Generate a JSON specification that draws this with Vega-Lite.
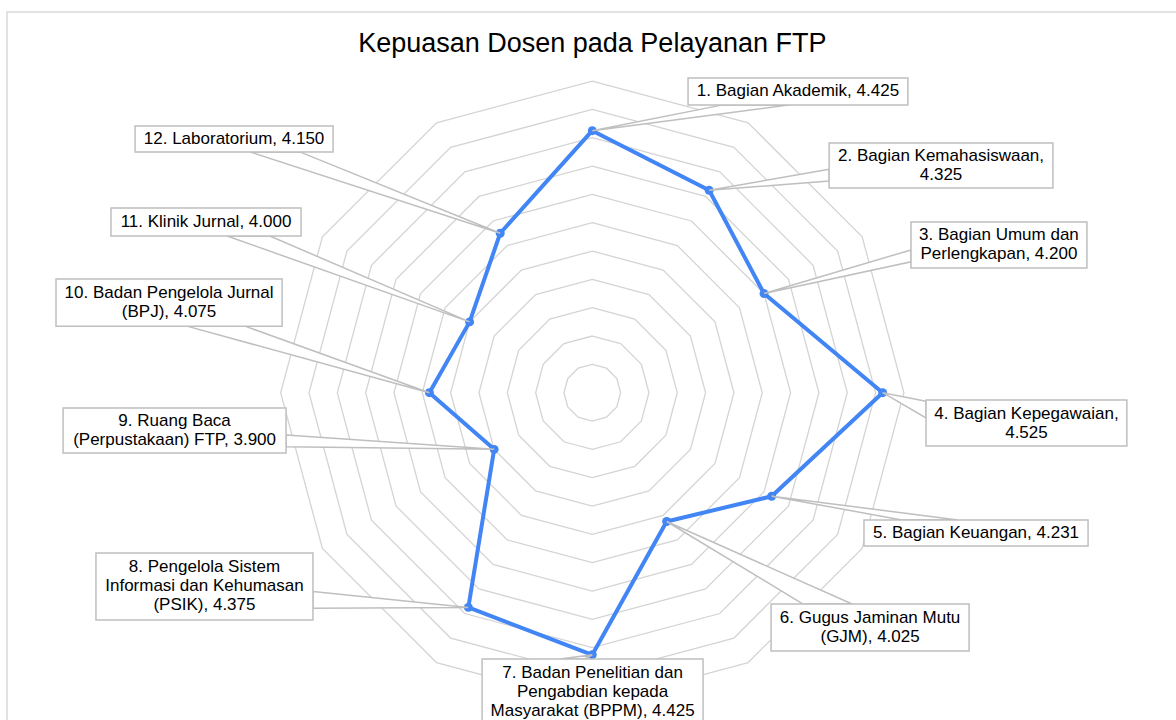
{
  "$schema": "https://vega.github.io/schema/vega-lite/v6.json",
  "width": 1176,
  "height": 720,
  "padding": 0,
  "autosize": {"type": "none"},
  "background": "white",
  "config": {"view": {"stroke": null}},
  "datasets": {
    "scores": [
      {"no": 1, "name": "Bagian Akademik", "value": 4.425},
      {"no": 2, "name": "Bagian Kemahasiswaan", "value": 4.325},
      {"no": 3, "name": "Bagian Umum dan Perlengkapan", "value": 4.2},
      {"no": 4, "name": "Bagian Kepegawaian", "value": 4.525},
      {"no": 5, "name": "Bagian Keuangan", "value": 4.231},
      {"no": 6, "name": "Gugus Jaminan Mutu (GJM)", "value": 4.025},
      {"no": 7, "name": "Badan Penelitian dan Pengabdian kepada Masyarakat (BPPM)", "value": 4.425},
      {"no": 8, "name": "Pengelola Sistem Informasi dan Kehumasan (PSIK)", "value": 4.375},
      {"no": 9, "name": "Ruang Baca (Perpustakaan) FTP", "value": 3.9},
      {"no": 10, "name": "Badan Pengelola Jurnal (BPJ)", "value": 4.075},
      {"no": 11, "name": "Klinik Jurnal", "value": 4.0},
      {"no": 12, "name": "Laboratorium", "value": 4.15}
    ],
    "rings": [
      {"level": 3.6, "k": [0,1,2,3,4,5,6,7,8,9,10,11]},
      {"level": 3.7, "k": [0,1,2,3,4,5,6,7,8,9,10,11]},
      {"level": 3.8, "k": [0,1,2,3,4,5,6,7,8,9,10,11]},
      {"level": 3.9, "k": [0,1,2,3,4,5,6,7,8,9,10,11]},
      {"level": 4.0, "k": [0,1,2,3,4,5,6,7,8,9,10,11]},
      {"level": 4.1, "k": [0,1,2,3,4,5,6,7,8,9,10,11]},
      {"level": 4.2, "k": [0,1,2,3,4,5,6,7,8,9,10,11]},
      {"level": 4.3, "k": [0,1,2,3,4,5,6,7,8,9,10,11]},
      {"level": 4.4, "k": [0,1,2,3,4,5,6,7,8,9,10,11]},
      {"level": 4.5, "k": [0,1,2,3,4,5,6,7,8,9,10,11]},
      {"level": 4.6, "k": [0,1,2,3,4,5,6,7,8,9,10,11]}
    ],
    "callouts": [
      {"no": 1, "text": "1. Bagian Akademik, 4.425", "x1": 0.338, "x2": 1.114, "y1": 1.111, "y2": 1.016, "bx1": 0.461, "by1": 1.016, "bx2": 0.698, "by2": 1.016},
      {"no": 2, "text": "2. Bagian Kemahasiswaan,\n4.325", "x1": 0.836, "x2": 1.626, "y1": 0.881, "y2": 0.723, "bx1": 0.836, "by1": 0.789, "bx2": 0.836, "by2": 0.747},
      {"no": 3, "text": "3. Bagian Umum dan\nPerlengkapan, 4.200", "x1": 1.125, "x2": 1.746, "y1": 0.603, "y2": 0.44, "bx1": 1.125, "by1": 0.504, "bx2": 1.125, "by2": 0.462},
      {"no": 4, "text": "4. Bagian Kepegawaian,\n4.525", "x1": 1.178, "x2": 1.887, "y1": -0.026, "y2": -0.188, "bx1": 1.178, "by1": -0.03, "bx2": 1.178, "by2": -0.089},
      {"no": 5, "text": "5. Bagian Keuangan, 4.231", "x1": 0.959, "x2": 1.75, "y1": -0.449, "y2": -0.541, "bx1": 1.093, "by1": -0.449, "bx2": 1.291, "by2": -0.449},
      {"no": 6, "text": "6. Gugus Jaminan Mutu\n(GJM), 4.025", "x1": 0.631, "x2": 1.33, "y1": -0.746, "y2": -0.912, "bx1": 0.744, "by1": -0.746, "bx2": 0.917, "by2": -0.746},
      {"no": 7, "text": "7. Badan Penelitian dan\nPengabdian kepada\nMasyarakat  (BPPM), 4.425", "x1": -0.389, "x2": 0.391, "y1": -0.94, "y2": -1.173, "bx1": -0.114, "by1": -0.94, "bx2": -0.026, "by2": -0.94},
      {"no": 8, "text": "8. Pengelola Sistem\nInformasi dan Kehumasan\n(PSIK), 4.375", "x1": -1.752, "x2": -0.986, "y1": -0.566, "y2": -0.802, "bx1": -0.986, "by1": -0.702, "bx2": -0.986, "by2": -0.761},
      {"no": 9, "text": "9. Ruang Baca\n(Perpustakaan) FTP, 3.900", "x1": -1.868, "x2": -1.081, "y1": -0.054, "y2": -0.213, "bx1": -1.081, "by1": -0.149, "bx2": -1.081, "by2": -0.191},
      {"no": 10, "text": "10. Badan Pengelola Jurnal\n(BPJ), 4.075", "x1": -1.893, "x2": -1.095, "y1": 0.401, "y2": 0.235, "bx1": -1.431, "by1": 0.235, "bx2": -1.226, "by2": 0.235},
      {"no": 11, "text": "11. Klinik Jurnal, 4.000", "x1": -1.699, "x2": -1.028, "y1": 0.652, "y2": 0.553, "bx1": -1.289, "by1": 0.553, "bx2": -1.138, "by2": 0.553},
      {"no": 12, "text": "12. Laboratorium, 4.150", "x1": -1.614, "x2": -0.915, "y1": 0.941, "y2": 0.85, "bx1": -1.208, "by1": 0.85, "bx2": -1.032, "by2": 0.85}
    ]
  },
  "encoding": {
    "x": {"type": "quantitative", "scale": {"domain": [-2.0907, 2.0604], "nice": false, "zero": false}, "axis": null},
    "y": {"type": "quantitative", "scale": {"domain": [-1.1553, 1.3862], "nice": false, "zero": false}, "axis": null}
  },
  "layer": [
    {
      "data": {"values": [{}]},
      "mark": {"type": "rect", "fill": null, "stroke": "#d9d9d9", "strokeWidth": 1.5},
      "encoding": {
        "x": {"datum": -2.066},
        "x2": {"datum": 3},
        "y": {"datum": 1.3438},
        "y2": {"datum": -3}
      }
    },
    {
      "data": {"name": "rings"},
      "transform": [
        {"flatten": ["k"]},
        {"calculate": "(datum.level - 3.5) * sin(datum.k * PI / 6)", "as": "gx"},
        {"calculate": "(datum.level - 3.5) * cos(datum.k * PI / 6)", "as": "gy"}
      ],
      "mark": {"type": "line", "interpolate": "linear-closed", "stroke": "#d4d4d4", "strokeWidth": 1.3},
      "encoding": {
        "x": {"field": "gx", "type": "quantitative"},
        "y": {"field": "gy", "type": "quantitative"},
        "detail": {"field": "level", "type": "nominal"},
        "order": {"field": "k", "type": "quantitative"}
      }
    },
    {
      "data": {"name": "scores"},
      "transform": [
        {"calculate": "(datum.value - 3.5) * sin((datum.no - 1) * PI / 6)", "as": "px"},
        {"calculate": "(datum.value - 3.5) * cos((datum.no - 1) * PI / 6)", "as": "py"}
      ],
      "layer": [
        {
          "mark": {"type": "line", "interpolate": "linear-closed", "stroke": "#4285F4", "strokeWidth": 4, "strokeJoin": "round"},
          "encoding": {
            "x": {"field": "px", "type": "quantitative"},
            "y": {"field": "py", "type": "quantitative"},
            "order": {"field": "no", "type": "quantitative"}
          }
        },
        {
          "mark": {"type": "circle", "size": 80, "color": "#4285F4", "opacity": 1},
          "encoding": {
            "x": {"field": "px", "type": "quantitative"},
            "y": {"field": "py", "type": "quantitative"}
          }
        }
      ]
    },
    {
      "data": {"name": "callouts"},
      "transform": [
        {"lookup": "no", "from": {"data": {"name": "scores"}, "key": "no", "fields": ["value"]}},
        {"calculate": "(datum.value - 3.5) * sin((datum.no - 1) * PI / 6)", "as": "px"},
        {"calculate": "(datum.value - 3.5) * cos((datum.no - 1) * PI / 6)", "as": "py"},
        {"fold": ["bx1", "px", "bx2"], "as": ["vk", "wx"]},
        {"calculate": "datum.vk == 'bx1' ? datum.by1 : (datum.vk == 'px' ? datum.py : datum.by2)", "as": "wy"},
        {"calculate": "datum.vk == 'bx1' ? 0 : (datum.vk == 'px' ? 1 : 2)", "as": "vi"}
      ],
      "mark": {"type": "line", "interpolate": "linear-closed", "fill": "white", "stroke": "#bfbfbf", "strokeWidth": 1.5},
      "encoding": {
        "x": {"field": "wx", "type": "quantitative"},
        "y": {"field": "wy", "type": "quantitative"},
        "detail": {"field": "no", "type": "nominal"},
        "order": {"field": "vi", "type": "quantitative"}
      }
    },
    {
      "data": {"name": "callouts"},
      "mark": {"type": "rect", "fill": "white", "stroke": "#bfbfbf", "strokeWidth": 1.5},
      "encoding": {
        "x": {"field": "x1", "type": "quantitative"},
        "x2": {"field": "x2"},
        "y": {"field": "y1", "type": "quantitative"},
        "y2": {"field": "y2"}
      }
    },
    {
      "data": {"name": "callouts"},
      "transform": [
        {"calculate": "length(split(datum.text, '\\n'))", "as": "nl"},
        {"calculate": "(datum.x1 + datum.x2) / 2", "as": "cx"},
        {"calculate": "(datum.y1 + datum.y2) / 2 + (datum.nl - 1) / 2 * 19 / 283.3", "as": "cy"}
      ],
      "mark": {"type": "text", "align": "center", "baseline": "middle", "lineBreak": "\n", "lineHeight": 19, "font": "Liberation Sans", "fontSize": 17, "color": "#000000"},
      "encoding": {
        "x": {"field": "cx", "type": "quantitative"},
        "y": {"field": "cy", "type": "quantitative"},
        "text": {"field": "text", "type": "nominal"}
      }
    },
    {
      "data": {"values": [{}]},
      "mark": {"type": "text", "align": "center", "baseline": "alphabetic", "font": "Liberation Sans", "fontSize": 27, "color": "#000000"},
      "encoding": {
        "x": {"datum": 0},
        "y": {"datum": 1.204},
        "text": {"value": "Kepuasan Dosen pada Pelayanan FTP"}
      }
    }
  ]
}
